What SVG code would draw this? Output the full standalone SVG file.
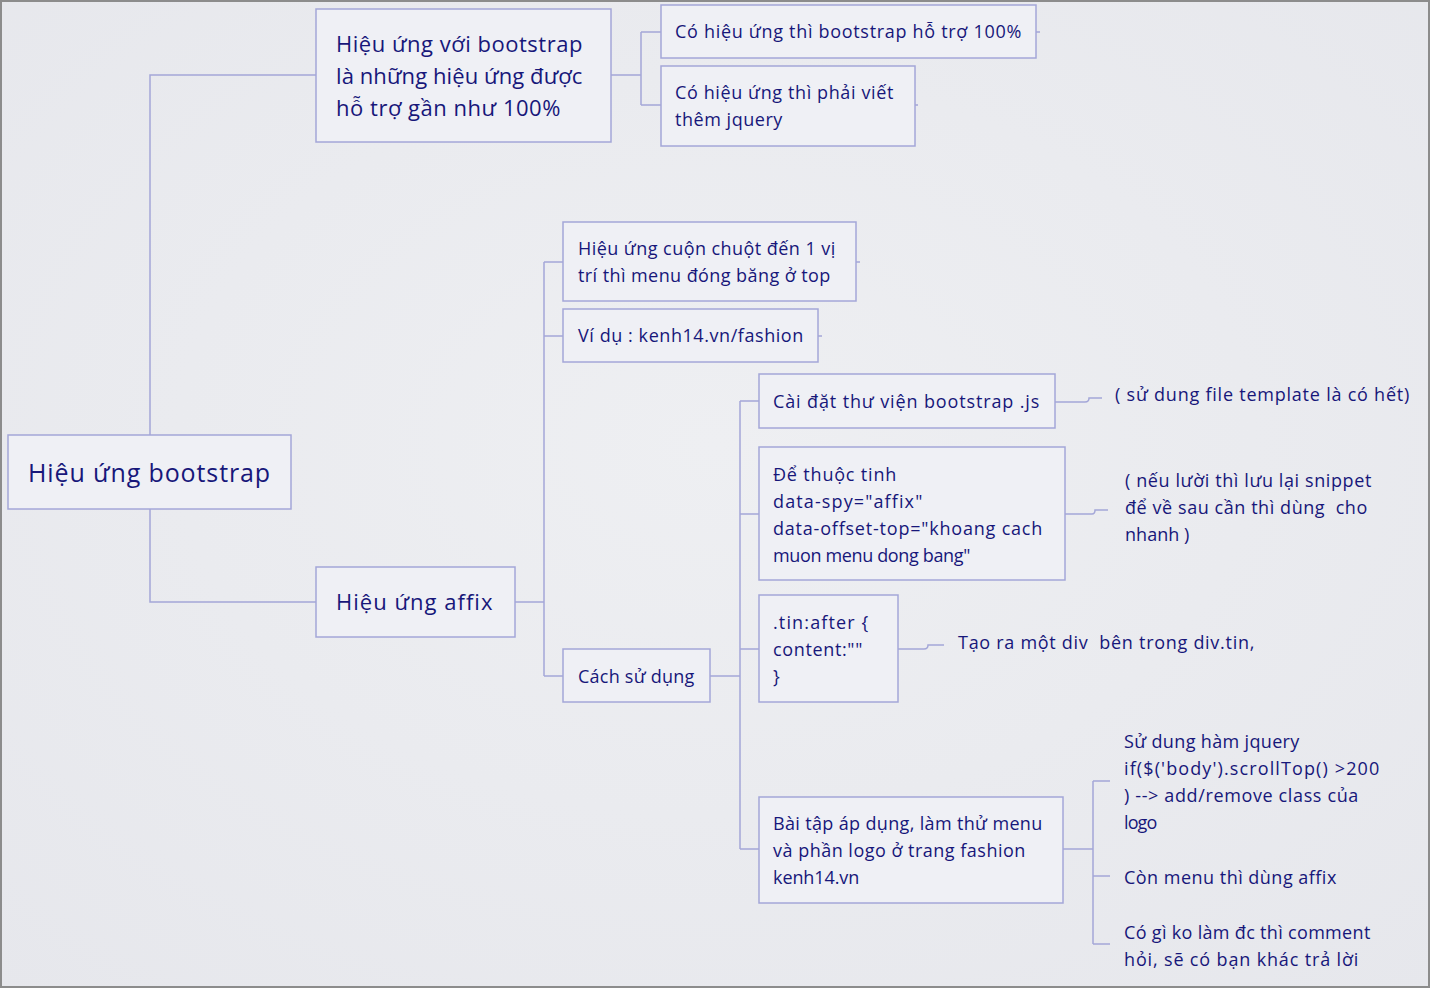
<svg xmlns="http://www.w3.org/2000/svg" width="1430" height="988" viewBox="0 0 1430 988">
<defs>
<radialGradient id="bg" cx="50%" cy="45%" r="75%">
<stop offset="0" stop-color="#eeeff2"/>
<stop offset="1" stop-color="#e6e7ec"/>
</radialGradient>
<style>
.box{fill:#eff0f5;stroke:#a4a7d8;stroke-width:1.5}
.ln{fill:none;stroke:#a4a7d8;stroke-width:1.5}
text{font-family:"Open Sans","Noto Sans","DejaVu Sans",sans-serif;fill:#17177a;white-space:pre}
.s{font-size:18px;letter-spacing:0.7px}
.m{font-size:22px;letter-spacing:0.6px}
.l{font-size:25px;letter-spacing:0.9px}
</style>
</defs>
<rect x="0" y="0" width="1430" height="988" fill="url(#bg)"/>
<rect x="1" y="1" width="1428" height="986" fill="none" stroke="#8c8c8c" stroke-width="2"/>

<g id="connectors">
<path class="ln" d="M150,435 V75 H316"/>
<path class="ln" d="M150,509 V602 H316"/>
<path class="ln" d="M611,75 H641 M641,32 V105 M641,32 H661 M641,105 H661"/>
<path class="ln" d="M1036,32 H1040 M915,105 H918 M856,262 H860 M818,336 H822"/>
<path class="ln" d="M515,602 H544 M544,262 V676 M544,262 H563 M544,336 H563 M544,676 H563"/>
<path class="ln" d="M710,676 H740 M740,401 V849 M740,401 H759 M740,514 H759 M740,649 H759 M740,849 H759"/>
<path class="ln" d="M1055,402 H1085 Q1089,402 1089,398 H1102"/>
<path class="ln" d="M1065,514 H1092 Q1095,514 1095,510 H1108"/>
<path class="ln" d="M898,649 H924 Q928,649 928,645 H944"/>
<path class="ln" d="M1063,849 H1093 M1093,781 V944 M1093,781 H1110 M1093,876 H1110 M1093,944 H1110"/>
</g>

<g id="root">
<rect class="box" x="8" y="435" width="283" height="74"/>
<text class="l" x="28" y="482" textLength="243">Hiệu ứng bootstrap</text>
</g>

<g id="n-bootstrap">
<rect class="box" x="316" y="9" width="295" height="133"/>
<text class="m" x="336" y="52" textLength="247">Hiệu ứng với bootstrap</text>
<text class="m" x="336" y="84" textLength="247">là những hiệu ứng được</text>
<text class="m" x="336" y="116" textLength="225">hỗ trợ gần như 100%</text>
</g>

<g id="n-support">
<rect class="box" x="661" y="5" width="375" height="53"/>
<text class="s" x="675" y="38" textLength="347">Có hiệu ứng thì bootstrap hỗ trợ 100%</text>
</g>

<g id="n-jquery">
<rect class="box" x="661" y="66" width="254" height="80"/>
<text class="s" x="675" y="99" textLength="219">Có hiệu ứng thì phải viết</text>
<text class="s" x="675" y="126" textLength="108">thêm jquery</text>
</g>

<g id="n-affix">
<rect class="box" x="316" y="567" width="199" height="70"/>
<text class="m" x="336" y="610" textLength="157">Hiệu ứng affix</text>
</g>

<g id="n-scroll">
<rect class="box" x="563" y="222" width="293" height="79"/>
<text class="s" x="578" y="255" textLength="258">Hiệu ứng cuộn chuột đến 1 vị</text>
<text class="s" x="578" y="282" textLength="253">trí thì menu đóng băng ở top</text>
</g>

<g id="n-example">
<rect class="box" x="563" y="309" width="255" height="53"/>
<text class="s" x="578" y="342" textLength="226">Ví dụ : kenh14.vn/fashion</text>
</g>

<g id="n-usage">
<rect class="box" x="563" y="649" width="147" height="53"/>
<text class="s" x="578" y="683" textLength="117">Cách sử dụng</text>
</g>

<g id="n-install">
<rect class="box" x="759" y="374" width="296" height="54"/>
<text class="s" x="773" y="408" textLength="267">Cài đặt thư viện bootstrap .js</text>
</g>

<g id="n-attr">
<rect class="box" x="759" y="447" width="306" height="133"/>
<text class="s" x="773" y="481" textLength="124">Để thuộc tinh</text>
<text class="s" x="773" y="508" textLength="150">data-spy="affix"</text>
<text class="s" x="773" y="535" textLength="270">data-offset-top="khoang cach</text>
<text class="s" x="773" y="562" textLength="198">muon menu dong bang"</text>
</g>

<g id="n-after">
<rect class="box" x="759" y="595" width="139" height="107"/>
<text class="s" x="773" y="629" textLength="96">.tin:after {</text>
<text class="s" x="773" y="656" textLength="90">content:""</text>
<text class="s" x="773" y="683">}</text>
</g>

<g id="n-exercise">
<rect class="box" x="759" y="797" width="304" height="106"/>
<text class="s" x="773" y="830" textLength="270">Bài tập áp dụng, làm thử menu</text>
<text class="s" x="773" y="857" textLength="253">và phần logo ở trang fashion</text>
<text class="s" x="773" y="884" textLength="87">kenh14.vn</text>
</g>

<g id="t-template">
<text class="s" x="1115" y="401" textLength="295">( sử dung file template là có hết)</text>
</g>

<g id="t-snippet">
<text class="s" x="1125" y="487" textLength="247">( nếu lười thì lưu lại snippet</text>
<text class="s" x="1125" y="514" textLength="243">để về sau cần thì dùng  cho</text>
<text class="s" x="1125" y="541" textLength="65">nhanh )</text>
</g>

<g id="t-div">
<text class="s" x="958" y="649" textLength="297">Tạo ra một div  bên trong div.tin,</text>
</g>

<g id="t-jquery">
<text class="s" x="1124" y="748" textLength="176">Sử dung hàm jquery</text>
<text class="s" x="1124" y="775" textLength="256">if($('body').scrollTop() &gt;200</text>
<text class="s" x="1124" y="802" textLength="235">) --&gt; add/remove class của</text>
<text class="s" x="1124" y="829" textLength="34">logo</text>
</g>

<g id="t-menu">
<text class="s" x="1124" y="884" textLength="213">Còn menu thì dùng affix</text>
</g>

<g id="t-comment">
<text class="s" x="1124" y="939" textLength="247">Có gì ko làm đc thì comment</text>
<text class="s" x="1124" y="966" textLength="235">hỏi, sẽ có bạn khác trả lời</text>
</g>
</svg>
